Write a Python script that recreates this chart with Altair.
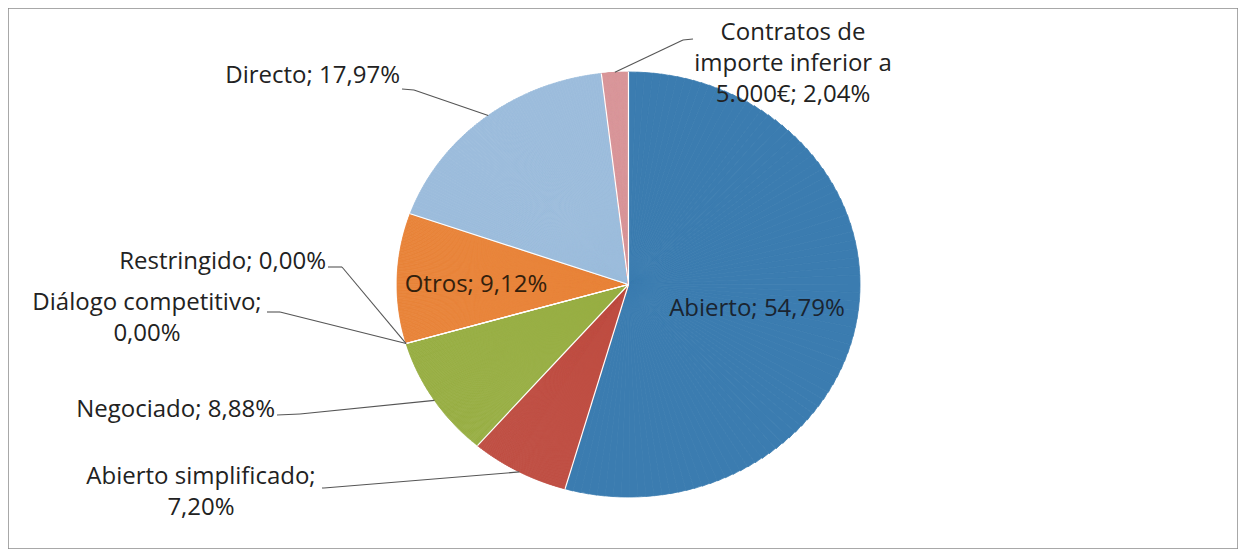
import altair as alt
import pandas as pd

# ---------------- data ----------------
categories = ["Abierto", "Abierto simplificado", "Negociado", "Diálogo competitivo",
              "Restringido", "Otros", "Directo", "Contratos de importe inferior a 5.000€"]
values = [54.79, 7.20, 8.88, 0.00, 0.00, 9.12, 17.97, 2.04]

# ---------------- style / layout ----------------
colors = ["#3B7CB0", "#BF4E42", "#98AE44", "#4BACC6", "#8064A2", "#E8843A", "#9CBCDC", "#D9979A"]
W, H = 1230, 541
CX, CY = 620.5, 276.5
RX, RY = 231.5, 212.5
N_SUB = 90
FONT = "Open Sans"

# label templates (line breaks) -- {c} category, {v} value
label_tpl = {
    "Abierto simplificado": "{c};\n{v}",
    "Diálogo competitivo": "{c};\n{v}",
    "Contratos de importe inferior a 5.000€": "Contratos de\nimporte inferior a\n5.000€; {v}",
}
# label anchor (x, y of first line, align, color)
label_pos = {
    "Abierto": (749, 301, "center", "#1a2430"),
    "Abierto simplificado": (193, 469, "center", "#222222"),
    "Negociado": (267, 402, "right", "#222222"),
    "Diálogo competitivo": (139, 295, "center", "#222222"),
    "Restringido": (318, 254, "right", "#222222"),
    "Otros": (468, 277, "center", "#33200c"),
    "Directo": (392, 68, "right", "#222222"),
    "Contratos de importe inferior a 5.000€": (785, 25, "center", "#222222"),
}
# leader lines: start (sx, sy) and elbow (ex, ey); end is computed on the pie edge
leaders = {
    "Abierto simplificado": (314, 480, 316, 480),
    "Negociado": (269, 407, 292, 406),
    "Diálogo competitivo": (259, 304, 272, 304),
    "Restringido": (320, 259, 334, 259),
    "Directo": (394, 81, 406, 82),
    "Contratos de importe inferior a 5.000€": (685, 31, 675, 32),
}


def fmt(v):
    return f"{v:.2f}".replace(".", ",") + "%"


df = pd.DataFrame({"cat": categories, "pct": values, "idx": list(range(len(values)))})

ell = f"1/sqrt(pow(sin(datum.ang)/{RX},2)+pow(cos(datum.ang)/{RY},2))"

cum_base = alt.Chart(df).transform_window(
    cum="sum(pct)", sort=[alt.SortField("idx")], frame=[None, 0]
).transform_calculate(start="datum.cum - datum.pct")

color_scale = alt.Scale(domain=categories, range=colors)

# pie made of thin sub-slices so that its outline follows an ellipse
arcs = cum_base.transform_calculate(
    ks=f"sequence(0, {N_SUB})"
).transform_flatten(["ks"], as_=["k"]).transform_calculate(
    t0=f"2*PI*(datum.start + datum.k*datum.pct/{N_SUB})/100"
).transform_calculate(
    t1=f"2*PI*(datum.start + (datum.k+1)*datum.pct/{N_SUB})/100"
).transform_calculate(
    ang="(datum.t0 + datum.t1)/2"
).transform_calculate(
    r=ell
).transform_filter("datum.pct > 0").mark_arc(strokeWidth=0.8).encode(
    theta=alt.Theta("t0:Q", scale=None),
    theta2=alt.Theta2("t1:Q"),
    radius=alt.Radius("r:Q", scale=None),
    color=alt.Color("cat:N", scale=color_scale, legend=None),
    stroke=alt.Stroke("cat:N", scale=alt.Scale(domain=categories, range=colors), legend=None),
    x=alt.value(CX),
    y=alt.value(CY),
)

# white separators between slices
seps = cum_base.transform_calculate(
    ang="2*PI*datum.start/100"
).transform_calculate(r=ell).transform_calculate(
    bx=f"{CX} + datum.r*sin(datum.ang)",
    by=f"{CY} - datum.r*cos(datum.ang)",
    cx=f"{CX}", cy=f"{CY}",
).mark_rule(color="white", strokeWidth=1.2).encode(
    x=alt.X("cx:Q", scale=None), y=alt.Y("cy:Q", scale=None),
    x2=alt.X2("bx:Q"), y2=alt.Y2("by:Q"),
)

# leader lines
lead_df = df.copy()
lead_df["sx"] = [leaders.get(c, (None,) * 4)[0] for c in categories]
lead_df["sy"] = [leaders.get(c, (None,) * 4)[1] for c in categories]
lead_df["ex"] = [leaders.get(c, (None,) * 4)[2] for c in categories]
lead_df["ey"] = [leaders.get(c, (None,) * 4)[3] for c in categories]

lead_base = alt.Chart(lead_df).transform_window(
    cum="sum(pct)", sort=[alt.SortField("idx")], frame=[None, 0]
).transform_calculate(start="datum.cum - datum.pct").transform_filter(
    "isValid(datum.sx)"
).transform_calculate(
    ang="2*PI*(datum.start + datum.pct/2)/100"
).transform_calculate(r=ell).transform_calculate(
    px=f"{CX} + datum.r*sin(datum.ang)",
    py=f"{CY} - datum.r*cos(datum.ang)",
)

lead1 = lead_base.mark_rule(color="#555555", strokeWidth=1.1).encode(
    x=alt.X("sx:Q", scale=None), y=alt.Y("sy:Q", scale=None),
    x2="ex:Q", y2="ey:Q",
)
lead2 = lead_base.mark_rule(color="#555555", strokeWidth=1.1).encode(
    x=alt.X("ex:Q", scale=None), y=alt.Y("ey:Q", scale=None),
    x2="px:Q", y2="py:Q",
)

# labels
lab_rows = []
for c, v in zip(categories, values):
    tpl = label_tpl.get(c, "{c}; {v}")
    x, y, align, col = label_pos[c]
    lab_rows.append({"cat": c, "text": tpl.format(c=c, v=fmt(v)),
                     "lx": x, "ly": y, "align": align, "tcol": col})
lab_df = pd.DataFrame(lab_rows)


def text_layer(align):
    return alt.Chart(lab_df).transform_filter(
        f"datum.align == '{align}'"
    ).mark_text(
        font=FONT, fontSize=24, align=align, baseline="middle",
        lineBreak="\n", lineHeight=31,
    ).encode(
        x=alt.X("lx:Q", scale=None), y=alt.Y("ly:Q", scale=None),
        text="text:N",
        color=alt.Color("tcol:N", scale=None),
    )


chart = alt.layer(
    arcs, seps, lead1, lead2, text_layer("center"), text_layer("right")
).properties(
    width=W, height=H,
    autosize=alt.AutoSizeParams(type="none"),
    padding=0,
    background="white",
).configure_view(stroke="#8c8c8c", strokeWidth=1.5)

chart.save("out.html", embed_options={"renderer": "svg", "actions": False})
